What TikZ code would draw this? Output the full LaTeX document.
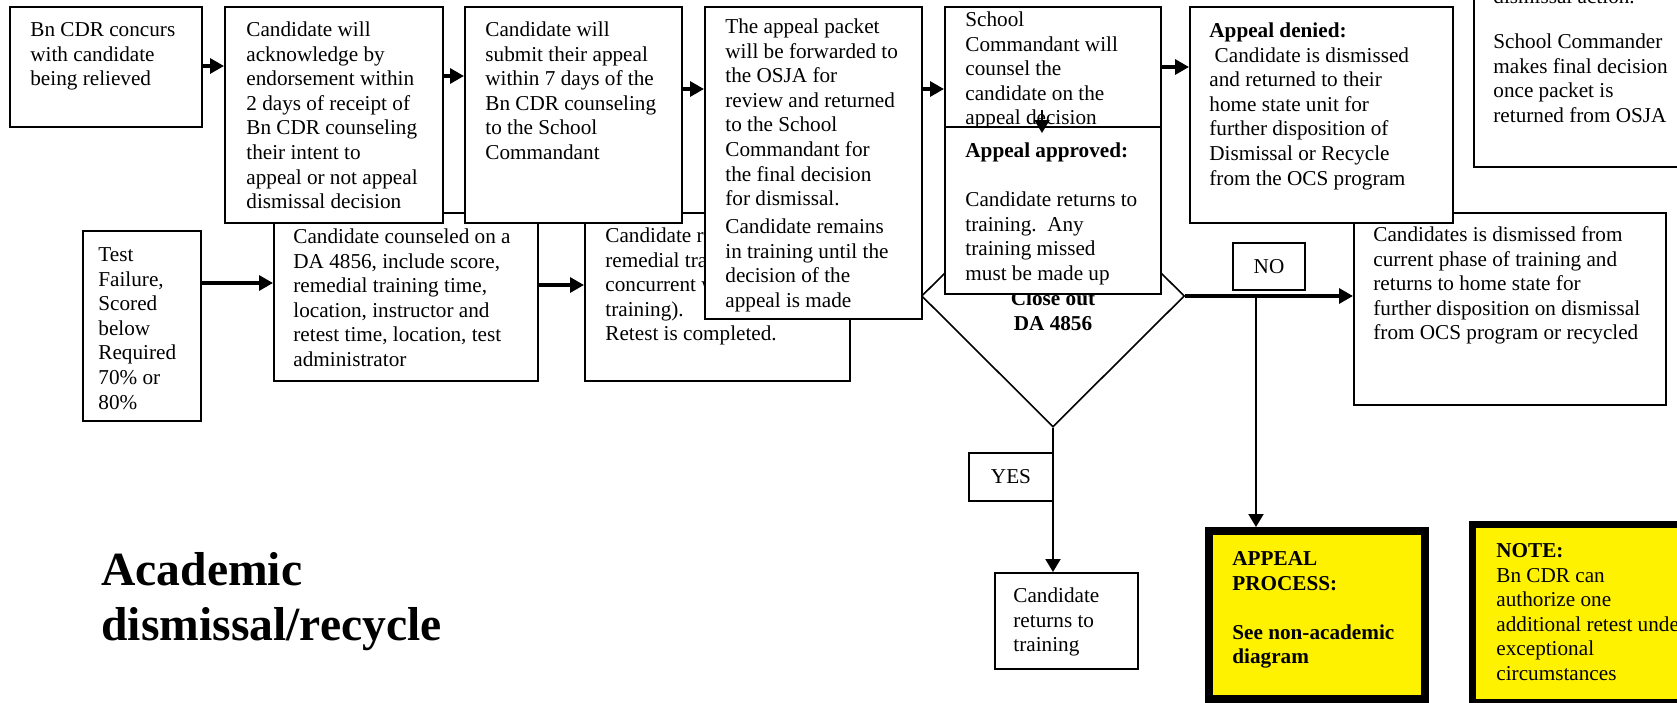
\documentclass[tikz,border=0pt]{standalone}
\usepackage{fontspec}
\setmainfont{Liberation Serif}
\usetikzlibrary{arrows.meta,shapes.geometric}
\tikzset{
  box/.style={draw, fill=white, line width=1pt, inner sep=0pt, anchor=north west,
    font=\fontsize{10.6}{12.3}\selectfont},
  txt/.style={anchor=north west, align=left, inner sep=0pt,
    font=\fontsize{10.6}{12.3}\selectfont},
  note/.style={draw, fill=yellow, inner sep=0pt, anchor=north west},
  arr/.style={-{Triangle[length=7pt,width=7.5pt]}, line width=1.6pt},
  arrthin/.style={-{Triangle[length=6.5pt,width=7.5pt]}, line width=1pt}
}
\begin{document}
\begin{tikzpicture}[x=0.5pt,y=-0.5pt]
  \useasboundingbox (0,0) rectangle (1677,702);
  \clip (0,0) rectangle (1677,702);
  \node[box, minimum width=132pt, minimum height=84pt] (counsel) at (273,212) {};
  \node[txt] (counsel-t) at (293,225.8) {\strut Candidate counseled on a\\DA 4856, include score,\\remedial training time,\\location, instructor and\\retest time, location, test\\administrator};
  \node[box, minimum width=132.5pt, minimum height=84pt] (remedial) at (584,212) {};
  \node[txt] (remedial-t) at (605,224.8) {\strut Candidate receives\\remedial training\\concurrent with\\training).\\Retest is completed.};
  \node[box, minimum width=59pt, minimum height=95pt] (fail) at (82,230) {};
  \node[txt] (fail-t) at (98,243.8) {\strut Test\\Failure,\\Scored\\below\\Required\\70\% or\\80\%};
  \node[box, minimum width=156pt, minimum height=96pt] (dismiss) at (1353,212) {};
  \node[txt] (dismiss-t) at (1373,223.8) {\strut Candidates is dismissed from\\current phase of training and\\returns to home state for\\further disposition on dismissal\\from OCS program or recycled};
  \node[draw, diamond, line width=0.8pt, inner sep=0pt, minimum width=131.5pt, minimum height=131pt] (close) at (1053,296) {};
  \node[anchor=north, align=center, inner sep=0pt, font=\fontsize{10.6}{12.3}\selectfont\bfseries] (close-t) at (1053,287.8) {\strut Close out\\DA 4856};
  \draw[arr] ([yshift=-26.5pt]fail.north east) -- ([yshift=-35.5pt]counsel.north west);
  \draw[arr] ([yshift=-36.5pt]counsel.north east) -- ([yshift=-36.5pt]remedial.north west);

  \node[box, minimum width=96pt, minimum height=60pt] (concur) at (9,6) {};
  \node[txt] (concur-t) at (30,18.8) {\strut Bn CDR concurs\\with candidate\\being relieved};
  \node[box, minimum width=109pt, minimum height=108pt] (ack) at (224,6) {};
  \node[txt] (ack-t) at (246,18.8) {\strut Candidate will\\acknowledge by\\endorsement within\\2 days of receipt of\\Bn CDR counseling\\their intent to\\appeal or not appeal\\dismissal decision};
  \node[box, minimum width=108.5pt, minimum height=108pt] (submit) at (464,6) {};
  \node[txt] (submit-t) at (485,18.8) {\strut Candidate will\\submit their appeal\\within 7 days of the\\Bn CDR counseling\\to the School\\Commandant};
  \node[box, minimum width=108.5pt, minimum height=156pt] (packet) at (704,6) {};
  \node[txt] (packet-t) at (725,15.8) {\strut The appeal packet\\will be forwarded to\\the OSJA for\\review and returned\\to the School\\Commandant for\\the final decision\\for dismissal.\\[1.7pt]Candidate remains\\in training until the\\decision of the\\appeal is made};
  \node[box, minimum width=108pt, minimum height=60pt] (commandant) at (944,6) {};
  \node[txt] (commandant-t) at (965,8.8) {\strut School\\Commandant will\\counsel the\\candidate on the\\appeal decision};
  \node[box, minimum width=131.5pt, minimum height=108pt] (denied) at (1189,6) {};
  \node[txt] (denied-t) at (1209,19.8) {\strut\textbf{Appeal denied:}\\\ Candidate is dismissed\\and returned to their\\home state unit for\\further disposition of\\Dismissal or Recycle\\from the OCS program};
  \node[box, minimum width=125pt, minimum height=101.5pt] (decide) at (1473,-37) {};
  \node[txt] (decide-t) at (1493,-14.2) {\strut dismissal action.\\[10.2pt]School Commander\\makes final decision\\once packet is\\returned from OSJA};
  \node[box, minimum width=108pt, minimum height=83.5pt] (approved) at (944,126) {};
  \node[txt] (approved-t) at (965,139.8) {\strut\textbf{Appeal approved:}\\[12.3pt]Candidate returns to\\training.\ \ Any\\training missed\\must be made up};

  \draw[arr] ([yshift=-30pt]concur.north east) -- ([yshift=-30pt]ack.north west);
  \draw[arr] ([yshift=-35pt]ack.north east) -- ([yshift=-35pt]submit.north west);
  \draw[arr] ([yshift=-41.5pt]submit.north east) -- ([yshift=-41.5pt]packet.north west);
  \draw[arr] ([yshift=-41.5pt]packet.north east) -- ([yshift=-41.5pt]commandant.north west);
  \draw[arr] ([yshift=-30.5pt]commandant.north east) -- ([yshift=-30.5pt]denied.north west);
  \draw[arrthin] ([xshift=-5.5pt,yshift=9pt]commandant.south) -- ([xshift=-5.5pt,yshift=-3.5pt]approved.north);

  \draw[arr] (close.east) -- (close.east -| dismiss.west);
  \node[box, minimum width=36pt, minimum height=23.5pt] (no) at (1232,242) {NO};
  \node[box, minimum width=42pt, minimum height=24pt] (yes) at (968,452) {YES};
  \node[box, minimum width=71.5pt, minimum height=48pt] (returns) at (994,572) {};
  \node[txt] (returns-t) at (1013,584.8) {\strut Candidate\\returns to\\training};
  \node[note, line width=4pt, minimum width=108pt, minimum height=84pt] (appeal) at (1205,527) {};
  \node[txt, font=\fontsize{10.6}{12.3}\selectfont\bfseries] (appeal-t) at (1232,547.8) {\strut APPEAL\\PROCESS:\\[12.3pt]See non-academic\\diagram};
  \node[note, line width=3.5pt, minimum width=120pt, minimum height=89pt] (noteb) at (1469,521) {};
  \node[txt] (noteb-t) at (1496,539.8) {\strut\textbf{NOTE:}\\Bn CDR can\\authorize one\\additional retest under\\exceptional\\circumstances};
  \coordinate (nojoin) at (1256,296);
  \draw[arrthin] (nojoin) -- (nojoin |- appeal.north);
  \draw[arrthin] (close.south) -- (close.south |- returns.north);

  \node[anchor=north west, align=left, inner sep=0pt, font=\fontsize{23.8}{27.5}\selectfont\bfseries] (title) at (101,546.5) {\strut Academic\\dismissal/recycle};
\end{tikzpicture}
\end{document}
